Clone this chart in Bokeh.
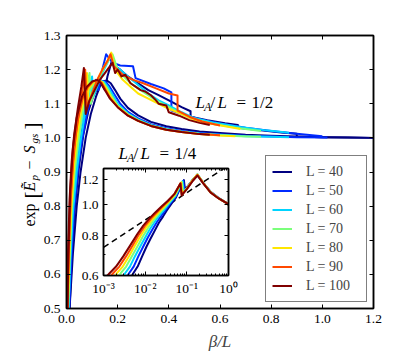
import math
from bokeh.plotting import figure
from bokeh.models import (Label, Legend, LegendItem, LinearAxis, LogAxis,
                          FixedTicker, PrintfTickFormatter)
from bokeh.layouts import column
from bokeh.embed import file_html
from bokeh.resources import INLINE

# ---------------- data ----------------
L_values = [40, 50, 60, 70, 80, 90, 100]
colors = ["#000080", "#002aff", "#00d4ff", "#7bff7b", "#ffe600", "#ff4800", "#800000"]

x_ticks = [0.0, 0.2, 0.4, 0.6, 0.8, 1.0, 1.2]
y_ticks = [0.5, 0.6, 0.7, 0.8, 0.9, 1.0, 1.1, 1.2, 1.3]

# L_A/L = 1/2 curves
half_x_40 = [0.010, 0.012, 0.025, 0.04, 0.055, 0.075, 0.095, 0.115, 0.135, 0.15, 0.16, 0.175, 0.19, 0.21, 0.24, 0.28, 0.32, 0.36, 0.40, 0.45, 0.485, 0.485, 0.55, 0.62, 0.67, 0.67, 0.76, 0.84, 0.90, 0.90, 1.0, 1.1, 1.2]
half_y_40 = [0.45, 0.50, 0.66, 0.80, 0.90, 1.00, 1.07, 1.12, 1.16, 1.14, 1.18, 1.22, 1.21, 1.20, 1.18, 1.16, 1.14, 1.125, 1.11, 1.09, 1.078, 1.062, 1.052, 1.043, 1.038, 1.03, 1.022, 1.016, 1.012, 1.004, 1.002, 1.001, 1.0]
half_x_50 = [0.008, 0.010, 0.02, 0.03, 0.045, 0.06, 0.08, 0.10, 0.115, 0.125, 0.14, 0.155, 0.18, 0.21, 0.26, 0.27, 0.33, 0.38, 0.41, 0.41, 0.46, 0.52, 0.60, 0.70, 0.80, 0.90, 1.0]
half_y_50 = [0.45, 0.50, 0.66, 0.79, 0.91, 0.99, 1.07, 1.13, 1.17, 1.14, 1.20, 1.245, 1.22, 1.212, 1.21, 1.175, 1.158, 1.145, 1.133, 1.08, 1.068, 1.055, 1.042, 1.03, 1.02, 1.012, 1.005]
half_x_60 = [0.006, 0.008, 0.015, 0.025, 0.04, 0.055, 0.07, 0.085, 0.10, 0.105, 0.12, 0.14, 0.16, 0.175, 0.19, 0.21, 0.24, 0.28, 0.32, 0.36, 0.40, 0.45, 0.50, 0.58, 0.68, 0.78, 0.87]
half_y_60 = [0.45, 0.50, 0.64, 0.78, 0.90, 0.99, 1.06, 1.12, 1.18, 1.12, 1.15, 1.19, 1.22, 1.245, 1.21, 1.20, 1.18, 1.155, 1.13, 1.11, 1.095, 1.075, 1.058, 1.044, 1.032, 1.022, 1.015]
half_x_70 = [0.005, 0.006, 0.012, 0.02, 0.032, 0.045, 0.06, 0.075, 0.09, 0.095, 0.11, 0.13, 0.15, 0.17, 0.18, 0.20, 0.23, 0.26, 0.30, 0.35, 0.40, 0.45, 0.50, 0.58, 0.66, 0.76]
half_y_70 = [0.45, 0.50, 0.64, 0.78, 0.90, 0.98, 1.06, 1.13, 1.19, 1.10, 1.14, 1.18, 1.21, 1.235, 1.245, 1.20, 1.175, 1.155, 1.135, 1.11, 1.09, 1.07, 1.055, 1.04, 1.03, 1.02]
half_x_80 = [0.004, 0.005, 0.01, 0.018, 0.03, 0.04, 0.055, 0.068, 0.08, 0.086, 0.10, 0.12, 0.14, 0.16, 0.175, 0.19, 0.20, 0.22, 0.25, 0.28, 0.32, 0.36, 0.40, 0.45, 0.50, 0.56, 0.62, 0.68]
half_y_80 = [0.45, 0.50, 0.64, 0.79, 0.92, 0.99, 1.07, 1.13, 1.19, 1.10, 1.13, 1.17, 1.20, 1.225, 1.25, 1.20, 1.19, 1.17, 1.15, 1.13, 1.115, 1.10, 1.085, 1.07, 1.052, 1.042, 1.034, 1.026]
half_x_90 = [0.003, 0.004, 0.008, 0.015, 0.025, 0.035, 0.05, 0.062, 0.073, 0.08, 0.10, 0.12, 0.14, 0.16, 0.172, 0.185, 0.20, 0.22, 0.26, 0.30, 0.35, 0.40, 0.434, 0.434, 0.48, 0.53, 0.60]
half_y_90 = [0.45, 0.50, 0.64, 0.80, 0.92, 1.00, 1.08, 1.14, 1.20, 1.09, 1.13, 1.17, 1.20, 1.225, 1.245, 1.21, 1.20, 1.185, 1.17, 1.16, 1.145, 1.13, 1.124, 1.08, 1.062, 1.048, 1.036]
half_x_100 = [0.0025, 0.003, 0.006, 0.012, 0.02, 0.03, 0.045, 0.058, 0.068, 0.075, 0.09, 0.11, 0.13, 0.15, 0.165, 0.18, 0.19, 0.20, 0.215, 0.23, 0.25, 0.27, 0.29, 0.31, 0.33, 0.35, 0.36, 0.39, 0.40, 0.44, 0.48, 0.52, 0.56]
half_y_100 = [0.45, 0.50, 0.66, 0.82, 0.93, 1.01, 1.09, 1.15, 1.205, 1.07, 1.11, 1.14, 1.17, 1.19, 1.205, 1.22, 1.19, 1.20, 1.18, 1.185, 1.16, 1.15, 1.14, 1.135, 1.125, 1.11, 1.10, 1.095, 1.075, 1.065, 1.052, 1.044, 1.038]

# L_A/L = 1/4 curves
quarter_x_40 = [0.010, 0.012, 0.02, 0.032, 0.048, 0.066, 0.086, 0.106, 0.126, 0.143, 0.158, 0.173, 0.19, 0.21, 0.24, 0.28, 0.33, 0.39, 0.45, 0.52, 0.60, 0.70, 0.80, 0.90, 1.0, 1.1, 1.2]
quarter_y_40 = [0.45, 0.50, 0.64, 0.79, 0.91, 1.01, 1.08, 1.125, 1.152, 1.166, 1.168, 1.16, 1.14, 1.115, 1.088, 1.066, 1.047, 1.034, 1.026, 1.019, 1.014, 1.009, 1.006, 1.004, 1.002, 1.001, 1.0]
quarter_x_50 = [0.008, 0.010, 0.017, 0.028, 0.043, 0.06, 0.08, 0.10, 0.12, 0.137, 0.152, 0.167, 0.185, 0.21, 0.24, 0.28, 0.33, 0.39, 0.45, 0.52, 0.60, 0.70, 0.80, 0.90, 1.02]
quarter_y_50 = [0.45, 0.50, 0.65, 0.80, 0.92, 1.02, 1.09, 1.13, 1.155, 1.167, 1.165, 1.152, 1.13, 1.10, 1.076, 1.057, 1.04, 1.028, 1.02, 1.014, 1.01, 1.006, 1.004, 1.002, 1.001]
quarter_x_60 = [0.006, 0.008, 0.014, 0.024, 0.038, 0.055, 0.075, 0.095, 0.115, 0.132, 0.147, 0.162, 0.18, 0.20, 0.24, 0.28, 0.33, 0.39, 0.45, 0.52, 0.60, 0.70, 0.80, 0.87]
quarter_y_60 = [0.45, 0.50, 0.65, 0.81, 0.93, 1.03, 1.10, 1.135, 1.157, 1.167, 1.164, 1.15, 1.127, 1.10, 1.072, 1.054, 1.038, 1.026, 1.019, 1.013, 1.009, 1.005, 1.003, 1.002]
quarter_x_70 = [0.005, 0.006, 0.012, 0.021, 0.034, 0.05, 0.07, 0.09, 0.11, 0.128, 0.143, 0.158, 0.176, 0.20, 0.24, 0.28, 0.33, 0.39, 0.45, 0.52, 0.60, 0.68, 0.76]
quarter_y_70 = [0.45, 0.50, 0.66, 0.82, 0.94, 1.04, 1.105, 1.14, 1.16, 1.168, 1.163, 1.147, 1.123, 1.095, 1.069, 1.052, 1.036, 1.025, 1.018, 1.012, 1.008, 1.005, 1.003]
quarter_x_80 = [0.004, 0.005, 0.011, 0.019, 0.031, 0.047, 0.067, 0.087, 0.106, 0.125, 0.14, 0.155, 0.173, 0.20, 0.24, 0.28, 0.33, 0.39, 0.45, 0.52, 0.60, 0.66]
quarter_y_80 = [0.45, 0.50, 0.67, 0.83, 0.95, 1.045, 1.11, 1.145, 1.163, 1.17, 1.163, 1.145, 1.12, 1.092, 1.067, 1.05, 1.035, 1.024, 1.017, 1.011, 1.007, 1.005]
quarter_x_90 = [0.003, 0.004, 0.009, 0.017, 0.028, 0.043, 0.063, 0.083, 0.103, 0.122, 0.137, 0.152, 0.17, 0.20, 0.24, 0.28, 0.33, 0.39, 0.45, 0.52, 0.60]
quarter_y_90 = [0.45, 0.50, 0.67, 0.84, 0.96, 1.05, 1.115, 1.148, 1.165, 1.17, 1.162, 1.142, 1.117, 1.09, 1.066, 1.05, 1.035, 1.024, 1.017, 1.011, 1.008]
quarter_x_100 = [0.0025, 0.003, 0.008, 0.015, 0.025, 0.04, 0.06, 0.08, 0.10, 0.12, 0.135, 0.15, 0.17, 0.20, 0.24, 0.28, 0.33, 0.39, 0.45, 0.52, 0.56]
quarter_y_100 = [0.45, 0.50, 0.68, 0.85, 0.97, 1.06, 1.12, 1.15, 1.165, 1.17, 1.16, 1.14, 1.115, 1.09, 1.065, 1.05, 1.035, 1.024, 1.017, 1.011, 1.009]

# inset (log-log) curves
inset_x_ticks = [0.001, 0.01, 0.1, 1.0]
inset_x_labels = ["10\u207b\u00b3", "10\u207b\u00b2", "10\u207b\u00b9", "10\u2070"]
inset_y_ticks = [0.6, 0.8, 1.0, 1.2]
inset_y_labels = ["0.6", "0.8", "1.0", "1.2"]
inset_y_minor = [0.7, 0.9, 1.1]

inset_x_40 = [0.0045, 0.0052, 0.0066, 0.0085, 0.0108, 0.0136, 0.017, 0.0215, 0.027, 0.033, 0.042, 0.055, 0.085, 0.09, 0.10, 0.14, 0.18, 0.25, 0.37, 0.58, 0.93, 1.0]
inset_y_40 = [0.59, 0.61, 0.64, 0.69, 0.74, 0.785, 0.83, 0.88, 0.92, 0.96, 1.005, 1.055, 1.195, 1.12, 1.135, 1.20, 1.24, 1.17, 1.099, 1.05, 1.01, 1.0]
inset_x_50 = [0.0035, 0.0041, 0.0053, 0.0069, 0.009, 0.0116, 0.0148, 0.0193, 0.0245, 0.031, 0.040, 0.054, 0.082, 0.087, 0.10, 0.14, 0.18, 0.25, 0.37, 0.58, 0.93, 1.0]
inset_y_50 = [0.59, 0.61, 0.64, 0.69, 0.74, 0.79, 0.835, 0.885, 0.925, 0.965, 1.01, 1.06, 1.19, 1.11, 1.13, 1.20, 1.245, 1.17, 1.098, 1.05, 1.01, 1.0]
inset_x_60 = [0.0028, 0.0033, 0.0043, 0.0057, 0.0076, 0.010, 0.013, 0.0175, 0.0225, 0.0295, 0.039, 0.053, 0.079, 0.084, 0.10, 0.14, 0.18, 0.25, 0.37, 0.58, 0.93, 1.0]
inset_y_60 = [0.59, 0.61, 0.64, 0.69, 0.74, 0.79, 0.84, 0.89, 0.93, 0.97, 1.015, 1.065, 1.185, 1.10, 1.128, 1.20, 1.245, 1.17, 1.097, 1.049, 1.01, 1.0]
inset_x_70 = [0.0022, 0.0026, 0.0035, 0.0048, 0.0065, 0.0088, 0.0117, 0.016, 0.021, 0.028, 0.038, 0.052, 0.076, 0.081, 0.10, 0.14, 0.18, 0.25, 0.37, 0.58, 0.93, 1.0]
inset_y_70 = [0.59, 0.61, 0.64, 0.69, 0.74, 0.795, 0.845, 0.895, 0.935, 0.975, 1.02, 1.07, 1.18, 1.09, 1.126, 1.20, 1.245, 1.17, 1.096, 1.048, 1.01, 1.0]
inset_x_80 = [0.0018, 0.0021, 0.0029, 0.0041, 0.0057, 0.0078, 0.0106, 0.0148, 0.020, 0.027, 0.037, 0.051, 0.073, 0.078, 0.10, 0.14, 0.18, 0.25, 0.37, 0.58, 0.93, 1.0]
inset_y_80 = [0.59, 0.61, 0.64, 0.69, 0.745, 0.80, 0.85, 0.90, 0.94, 0.98, 1.025, 1.075, 1.175, 1.08, 1.124, 1.20, 1.245, 1.17, 1.095, 1.048, 1.01, 1.0]
inset_x_90 = [0.0014, 0.0017, 0.0024, 0.0035, 0.005, 0.007, 0.0097, 0.0138, 0.019, 0.026, 0.036, 0.050, 0.071, 0.076, 0.10, 0.14, 0.18, 0.25, 0.37, 0.58, 0.93, 1.0]
inset_y_90 = [0.59, 0.61, 0.64, 0.69, 0.745, 0.805, 0.855, 0.905, 0.945, 0.985, 1.028, 1.08, 1.17, 1.075, 1.122, 1.195, 1.24, 1.168, 1.094, 1.047, 1.01, 1.0]
inset_x_100 = [0.0011, 0.0014, 0.002, 0.003, 0.0045, 0.0065, 0.009, 0.013, 0.018, 0.025, 0.035, 0.050, 0.070, 0.075, 0.10, 0.14, 0.18, 0.25, 0.37, 0.58, 0.93, 1.0]
inset_y_100 = [0.59, 0.61, 0.64, 0.69, 0.75, 0.81, 0.86, 0.91, 0.95, 0.99, 1.03, 1.08, 1.166, 1.07, 1.12, 1.19, 1.236, 1.166, 1.093, 1.047, 1.01, 1.0]

dash_x = [0.001, 1.0]
dash_y = [0.735, 1.33]

half_x = [half_x_40, half_x_50, half_x_60, half_x_70, half_x_80, half_x_90, half_x_100]
half_y = [half_y_40, half_y_50, half_y_60, half_y_70, half_y_80, half_y_90, half_y_100]
quarter_x = [quarter_x_40, quarter_x_50, quarter_x_60, quarter_x_70, quarter_x_80, quarter_x_90, quarter_x_100]
quarter_y = [quarter_y_40, quarter_y_50, quarter_y_60, quarter_y_70, quarter_y_80, quarter_y_90, quarter_y_100]
inset_x = [inset_x_40, inset_x_50, inset_x_60, inset_x_70, inset_x_80, inset_x_90, inset_x_100]
inset_y = [inset_y_40, inset_y_50, inset_y_60, inset_y_70, inset_y_80, inset_y_90, inset_y_100]

# ---------------- styling ----------------
SERIF = "Liberation Serif"
TICK_FS = "13.5px"
LW = 2

p = figure(frame_width=307, frame_height=273, x_range=(0, 1.2), y_range=(0.5, 1.3),
           output_backend="svg", toolbar_location=None,
           min_border_left=66, min_border_right=30, min_border_top=35, min_border_bottom=46)
p.frame_align = False
p.grid.visible = False
p.outline_line_color = "black"
p.outline_line_width = 1.5
p.background_fill_color = "white"
p.border_fill_color = "white"


def style_axis(ax, ticks, show_labels=True, fmt="%.1f"):
    ax.ticker = FixedTicker(ticks=ticks)
    ax.formatter = PrintfTickFormatter(format=fmt)
    ax.major_tick_in = 4
    ax.major_tick_out = 0
    ax.minor_tick_in = 0
    ax.minor_tick_out = 0
    ax.axis_line_color = "black"
    ax.axis_line_width = 1.5
    ax.major_tick_line_color = "black"
    ax.major_tick_line_width = 1
    ax.major_label_text_font = SERIF
    ax.major_label_text_color = "black"
    ax.major_label_standoff = 6
    if show_labels:
        ax.major_label_text_font_size = TICK_FS
    else:
        ax.major_label_overrides = {t: "" for t in ticks}
        ax.major_label_text_font_size = "1px"
        ax.major_label_standoff = 0


style_axis(p.xaxis[0], x_ticks)
style_axis(p.yaxis[0], y_ticks)
p.xaxis[0].axis_label = "\u03b2/L"
p.xaxis[0].axis_label_text_font = SERIF
p.xaxis[0].axis_label_text_font_size = "17px"
p.xaxis[0].axis_label_text_font_style = "italic"
p.xaxis[0].axis_label_standoff = 6
top_ax = LinearAxis()
style_axis(top_ax, x_ticks, show_labels=False)
p.add_layout(top_ax, "above")
right_ax = LinearAxis()
style_axis(right_ax, y_ticks, show_labels=False)
p.add_layout(right_ax, "right")

legend_items = []
for i, L in enumerate(L_values):
    rq = p.line(quarter_x[i], quarter_y[i], line_color=colors[i], line_width=LW, line_join="round")
    rh = p.line(half_x[i], half_y[i], line_color=colors[i], line_width=LW, line_join="round")
    legend_items.append(LegendItem(label=f"L = {L}", renderers=[rh]))

legend = Legend(items=legend_items, location="bottom_right")
legend.margin = 6
legend.padding = 6
legend.spacing = 0
legend.glyph_width = 20
legend.glyph_height = 19
legend.label_height = 19
legend.label_width = 54
legend.label_standoff = 14
legend.label_text_font = SERIF
legend.label_text_font_size = "14px"
legend.border_line_color = "black"
legend.border_line_width = 1.5
legend.background_fill_color = "white"
legend.background_fill_alpha = 1.0
p.add_layout(legend)


def add_parts(fig, x, y, parts, angle=0.0):
    for text, dx, dy, size, style in parts:
        fig.add_layout(Label(x=x, y=y, text=text, x_offset=dx, y_offset=dy,
                             text_font=SERIF, text_font_size=size, text_font_style=style,
                             text_color="black", angle=angle,
                             text_align="left", text_baseline="alphabetic"))


la_parts_half = [("L", 0, 0, "17px", "italic"), ("A", 8.5, -4, "12px", "italic"),
                 ("/", 15, 0, "17px", "normal"), ("L", 22, 0, "17px", "italic"),
                 ("=", 41, 0, "17px", "normal"), ("1/2", 56, 0, "17px", "normal")]
la_parts_quarter = [("L", 0, 0, "17px", "italic"), ("A", 8.5, -4, "12px", "italic"),
                    ("/", 15, 0, "17px", "normal"), ("L", 22, 0, "17px", "italic"),
                    ("=", 41, 0, "17px", "normal"), ("1/4", 56, 0, "17px", "normal")]
add_parts(p, 0.504, 1.1035, la_parts_half)
add_parts(p, 0.203, 0.954, la_parts_quarter)

# ---------------- y-axis label (separate text panel, rotated) ----------------
ylab = figure(width=60, height=170, x_range=(0, 60), y_range=(0, 170),
              x_axis_location=None, y_axis_location=None,
              output_backend="svg", toolbar_location=None, min_border=0)
ylab.frame_align = False
ylab.grid.visible = False
ylab.outline_line_color = None
ylab.background_fill_alpha = 0.0
ylab.border_fill_alpha = 0.0
ylab_parts = [("exp", 0, 0, "16px", "normal"),
              ("[", 2, 28, "21px", "normal"),
              ("\u1ebc", 0, 35, "16px", "italic"),
              ("p", 4, 46, "11px", "italic"),
              ("\u2212", 0, 57, "16px", "normal"),
              ("S", 0, 73, "16px", "italic"),
              ("gs", 4, 83, "11px", "italic"),
              ("]", 2, 97, "21px", "normal")]
add_parts(ylab, 29, 34, ylab_parts, angle=math.pi / 2)
ylab.styles = {"position": "absolute", "left": "0px", "top": "90px", "z-index": "5"}

# ---------------- inset ----------------
ins = figure(frame_width=125, frame_height=107, x_range=(1e-3, 1.0), y_range=(0.6, 1.3),
             x_axis_type="log", y_axis_type="log",
             output_backend="svg", toolbar_location=None,
             min_border_left=30, min_border_right=14, min_border_top=6, min_border_bottom=22)
ins.frame_align = False
ins.grid.visible = False
ins.outline_line_color = "black"
ins.outline_line_width = 1.5
ins.background_fill_color = "white"
ins.border_fill_alpha = 0.0

x_minor = [m * d for d in [0.001, 0.01, 0.1] for m in range(2, 10)]


def style_log_axis(ax, ticks, minor, labels, show_labels=True):
    ax.ticker = FixedTicker(ticks=ticks, minor_ticks=minor)
    ax.major_tick_in = 4
    ax.major_tick_out = 0
    ax.minor_tick_in = 2
    ax.minor_tick_out = 0
    ax.axis_line_color = "black"
    ax.axis_line_width = 1.5
    ax.major_label_text_font = SERIF
    ax.major_label_text_color = "black"
    ax.major_label_standoff = 5
    if show_labels:
        ax.major_label_overrides = {t: lab for t, lab in zip(ticks, labels)}
        ax.major_label_text_font_size = TICK_FS
    else:
        ax.major_label_overrides = {t: "" for t in ticks}
        ax.major_label_text_font_size = "1px"
        ax.major_label_standoff = 0


style_log_axis(ins.xaxis[0], inset_x_ticks, x_minor, inset_x_labels)
style_log_axis(ins.yaxis[0], inset_y_ticks, inset_y_minor, inset_y_labels)
ins_top = LogAxis()
style_log_axis(ins_top, inset_x_ticks, x_minor, inset_x_labels, show_labels=False)
ins.add_layout(ins_top, "above")
ins_right = LogAxis()
style_log_axis(ins_right, inset_y_ticks, inset_y_minor, inset_y_labels, show_labels=False)
ins.add_layout(ins_right, "right")

ins.line(dash_x, dash_y, line_color="black", line_width=1.5, line_dash="6 4")
for i, L in enumerate(L_values):
    ins.line(inset_x[i], inset_y[i], line_color=colors[i], line_width=LW, line_join="round")

ins.styles = {"position": "absolute", "left": "73px", "top": "162px", "z-index": "10"}

layout = column(p, ins, ylab)
layout.styles = {"position": "relative"}

open("out.html", "w").write(file_html(layout, INLINE))
